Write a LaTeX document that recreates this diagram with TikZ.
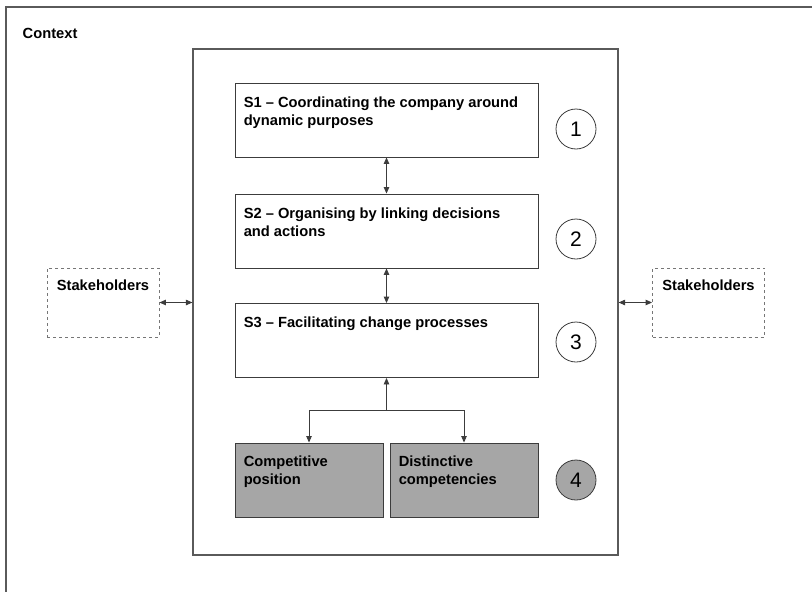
\documentclass[tikz,border=0pt]{standalone}
\usepackage{fontspec}
\setmainfont{Liberation Sans}
\usetikzlibrary{arrows.meta,calc}
\definecolor{frameline}{HTML}{5A5A5A}
\definecolor{boxline}{HTML}{3C3C3C}
\definecolor{boxfill}{HTML}{A6A6A6}
\tikzset{
  frame/.style={draw=frameline, line width=1.2pt},
  stagebox/.style={draw=boxline, line width=0.9pt, fill=white, minimum width=303pt, minimum height=74pt, inner sep=0pt},
  corebox/.style={draw=boxline, line width=0.9pt, fill=boxfill, minimum width=148pt, minimum height=74pt, inner sep=0pt},
  stakebox/.style={draw=boxline!70, dashed, line width=0.9pt, minimum width=112pt, minimum height=69pt, inner sep=0pt},
  lbl/.style={font=\bfseries\fontsize{14.7}{17.8}\selectfont, align=left, inner sep=0pt, anchor=base west},
  numcirc/.style={circle, draw=boxline, line width=0.8pt, minimum size=40pt, inner sep=0pt, font=\fontsize{21}{24}\selectfont},
  link/.style={draw=boxline, line width=0.9pt},
  tip/.style={-{Triangle[length=6.5pt,width=5.5pt]}},
  twotip/.style={{Triangle[length=6.5pt,width=5.5pt]}-{Triangle[length=6.5pt,width=5.5pt]}},
}
\begin{document}
\begin{tikzpicture}[x=1pt,y=-1pt]
\useasboundingbox (0,0) rectangle (812,592);
\clip (0,0) rectangle (812,592);

% outer context frame
\draw[frame] (6,7) rectangle (840,620);
\node[lbl] (ctx) at (22.5,38.2) {Context};

% inner frame
\node[frame, draw, minimum width=425pt, minimum height=506pt, inner sep=0pt] (inner) at (405.5,302) {};

% three stages (two-line labels sit on the baseline of their last line)
\node[stagebox] (s1) at (386.5,120) {};
\node[stagebox] (s2) at (386.5,231) {};
\node[stagebox] (s3) at (386.5,340.5) {};
\node[lbl] at ($(s1.north west)+(9,42.6)$) {S1 – Coordinating the company around\\dynamic purposes};
\node[lbl] at ($(s2.north west)+(9,42.6)$) {S2 – Organising by linking decisions\\and actions};
\node[lbl] at ($(s3.north west)+(9,24.5)$) {S3 – Facilitating change processes};

% foundations
\node[corebox] (cp) at (309,480) {};
\node[corebox] (dc) at (464,480) {};
\node[lbl] at ($(cp.north west)+(9,42)$) {Competitive\\position};
\node[lbl] at ($(dc.north west)+(9,42)$) {Distinctive\\competencies};

% numbered markers
\node[numcirc] (n1) at (576,129) {1};
\node[numcirc] (n2) at (576,239) {2};
\node[numcirc] (n3) at (576,342) {3};
\node[numcirc, fill=boxfill] (n4) at (576,480) {4};

% stakeholders
\node[stakebox] (stl) at (103,302.5) {};
\node[stakebox] (str) at (708.5,302.5) {};
\node[lbl, anchor=base] at ($(stl.north)+(0,23)$) {Stakeholders};
\node[lbl, anchor=base] at ($(str.north)+(0,23)$) {Stakeholders};

% connectors
\draw[link, twotip] (s1.south) -- (s2.north);
\draw[link, twotip] (s2.south) -- (s3.north);
\coordinate (fork) at (386.5,410);
\draw[link, tip] (fork) -- (s3.south);
\draw[link, tip] (fork) -| (cp.north);
\draw[link, tip] (fork) -| (dc.north);
\draw[link, twotip] (stl.east) -- (stl.east -| inner.west);
\draw[link, twotip] (str.west -| inner.east) -- (str.west);
\end{tikzpicture}
\end{document}
